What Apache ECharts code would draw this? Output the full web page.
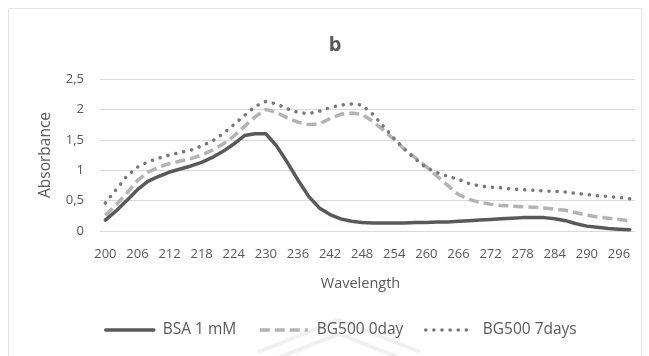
<!DOCTYPE html>
<html>
<head>
<meta charset="utf-8">
<script src="https://cdn.jsdelivr.net/npm/echarts@6/dist/echarts.min.js"></script>
<style>
  html, body { margin: 0; padding: 0; background: #ffffff; }
  #chart { width: 649px; height: 356px; }
</style>
</head>
<body>
<div id="chart"></div>
<script>
// Wavelengths (nm), one category per 2 nm
const wavelengths = [
  200, 202, 204, 206, 208, 210, 212, 214, 216, 218,
  220, 222, 224, 226, 228, 230, 232, 234, 236, 238,
  240, 242, 244, 246, 248, 250, 252, 254, 256, 258,
  260, 262, 264, 266, 268, 270, 272, 274, 276, 278,
  280, 282, 284, 286, 288, 290, 292, 294, 296, 298
];

const seriesNames = ['BSA 1 mM', 'BG500 0day', 'BG500 7days'];

const bsa = [
  0.18, 0.33, 0.50, 0.68, 0.82, 0.90, 0.97, 1.02, 1.07, 1.13,
  1.21, 1.31, 1.43, 1.57, 1.60, 1.60, 1.40, 1.13, 0.84, 0.57,
  0.38, 0.27, 0.20, 0.16, 0.14, 0.13, 0.13, 0.13, 0.13, 0.14,
  0.14, 0.15, 0.15, 0.16, 0.17, 0.18, 0.19, 0.20, 0.21, 0.22,
  0.22, 0.22, 0.20, 0.17, 0.12, 0.08, 0.06, 0.04, 0.03, 0.02
];

const bg500Day0 = [
  0.26, 0.43, 0.62, 0.83, 0.97, 1.05, 1.11, 1.15, 1.19, 1.25,
  1.33, 1.43, 1.56, 1.72, 1.88, 2.00, 1.95, 1.86, 1.79, 1.75,
  1.76, 1.85, 1.92, 1.94, 1.92, 1.80, 1.66, 1.50, 1.34, 1.20,
  1.06, 0.90, 0.75, 0.60, 0.52, 0.47, 0.44, 0.42, 0.41, 0.40,
  0.39, 0.38, 0.36, 0.34, 0.30, 0.26, 0.23, 0.21, 0.19, 0.17
];

const bg500Day7 = [
  0.46, 0.68, 0.90, 1.05, 1.14, 1.20, 1.25, 1.29, 1.33, 1.40,
  1.48, 1.60, 1.75, 1.90, 2.05, 2.13, 2.09, 2.01, 1.95, 1.93,
  1.97, 2.03, 2.07, 2.09, 2.07, 1.92, 1.72, 1.52, 1.34, 1.18,
  1.04, 0.96, 0.90, 0.85, 0.78, 0.74, 0.72, 0.71, 0.69, 0.68,
  0.67, 0.66, 0.65, 0.64, 0.62, 0.60, 0.58, 0.57, 0.55, 0.53
];

const FONT = '"Open Sans", Lato, sans-serif';
const TEXT_COLOR = '#595959';

const chart = echarts.init(document.getElementById('chart'), null, { renderer: 'canvas' });

// One legend per series so each entry sits at its own spot
function legendAt(name, left) {
  return {
    data: [name],
    left: left,
    top: 322,
    itemWidth: 48,
    itemHeight: 10,
    itemGap: 0,
    padding: 0,
    itemStyle: { color: 'rgba(0,0,0,0)', borderWidth: 0, opacity: 0 },
    lineStyle: { width: 3.5 },
    textStyle: { fontFamily: FONT, fontSize: 15.5, color: TEXT_COLOR, padding: [0, 0, 0, 4] },
    selectedMode: false
  };
}

chart.setOption({
  animation: false,
  backgroundColor: '#ffffff',
  title: {
    text: 'b',
    left: 330,
    textAlign: 'center',
    top: 30,
    textStyle: { fontFamily: FONT, fontSize: 20, fontWeight: 'bold', color: TEXT_COLOR }
  },
  legend: [
    legendAt(seriesNames[0], 104),
    legendAt(seriesNames[1], 258),
    legendAt(seriesNames[2], 424)
  ],
  grid: { left: 100, right: 14, top: 79, bottom: 125, containLabel: false },
  xAxis: {
    type: 'category',
    data: wavelengths,
    boundaryGap: true,
    name: 'Wavelength',
    nameLocation: 'middle',
    nameGap: 45,
    nameTextStyle: { fontFamily: FONT, fontSize: 14.5, color: TEXT_COLOR, padding: [0, 14, 0, 0] },
    axisLine: { show: true, lineStyle: { color: '#d9d9d9', width: 1 } },
    axisTick: { show: false },
    axisLabel: {
      interval: 2,
      margin: 17,
      fontFamily: FONT,
      fontSize: 13,
      color: TEXT_COLOR
    },
    splitLine: { show: false }
  },
  yAxis: {
    type: 'value',
    min: 0,
    max: 2.5,
    interval: 0.5,
    name: 'Absorbance',
    nameLocation: 'middle',
    nameGap: 46,
    nameRotate: 90,
    nameTextStyle: { fontFamily: FONT, fontSize: 15.5, color: TEXT_COLOR },
    axisLine: { show: false },
    axisTick: { show: false },
    axisLabel: {
      margin: 16,
      fontFamily: FONT,
      fontSize: 13,
      color: TEXT_COLOR,
      formatter: v => String(v).replace('.', ',')
    },
    splitLine: { show: true, lineStyle: { color: '#d9d9d9', width: 1 } }
  },
  series: [
    {
      name: seriesNames[0],
      type: 'line',
      data: bsa,
      symbol: 'none',
      smooth: false,
      z: 3,
      color: '#595959',
      lineStyle: { color: '#595959', width: 3.5, cap: 'round', join: 'round' }
    },
    {
      name: seriesNames[1],
      type: 'line',
      data: bg500Day0,
      symbol: 'none',
      smooth: false,
      z: 2,
      color: '#b3b3b3',
      lineStyle: { color: '#b3b3b3', width: 3.5, type: [10, 5], cap: 'butt', join: 'round' }
    },
    {
      name: seriesNames[2],
      type: 'line',
      data: bg500Day7,
      symbol: 'none',
      smooth: false,
      z: 4,
      color: '#777777',
      lineStyle: { color: '#777777', width: 3.5, type: [0.1, 8], cap: 'round', join: 'round' }
    }
  ],
  graphic: [
    {
      type: 'rect',
      silent: true,
      z: -10,
      shape: { x: 8.5, y: 8.5, width: 633, height: 360 },
      style: { fill: null, stroke: '#e6e6e6', lineWidth: 1 }
    },
    {
      type: 'polyline',
      silent: true,
      z: -5,
      shape: { points: [[258, 352], [339, 320], [420, 352]] },
      style: { fill: null, stroke: '#f0f0f0', lineWidth: 4 }
    },
    {
      type: 'polyline',
      silent: true,
      z: -5,
      shape: { points: [[278, 358], [339, 334], [400, 358]] },
      style: { fill: null, stroke: '#f0f0f0', lineWidth: 4 }
    }
  ]
});
</script>
</body>
</html>
